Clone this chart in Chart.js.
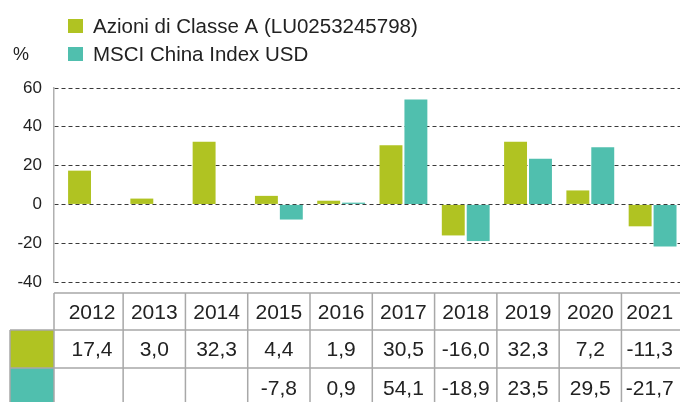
<!DOCTYPE html>
<html>
<head>
<meta charset="utf-8">
<script src="https://cdn.jsdelivr.net/npm/chart.js@4"></script>
<style>
  html, body { margin: 0; padding: 0; background: #fff; }
  #wrap { width: 680px; height: 402px; position: relative; }
</style>
</head>
<body>
<div id="wrap"><canvas id="chart"></canvas></div>
<script>
// values
const years = ['2012', '2013', '2014', '2015', '2016', '2017', '2018', '2019', '2020', '2021'];
const classA = [17.4, 3.0, 32.3, 4.4, 1.9, 30.5, -16.0, 32.3, 7.2, -11.3];
const msciChina = [null, null, null, -7.8, 0.9, 54.1, -18.9, 23.5, 29.5, -21.7];
const seriesNames = ['Azioni di Classe A (LU0253245798)', 'MSCI China Index USD'];
const yTicks = [-40, -20, 0, 20, 40, 60];

const GREEN = '#b0c322';
const TEAL = '#50bfae';
const FONT = '"Liberation Sans", Arial, Helvetica, sans-serif';

const fmt = v => (v === null ? '' : v.toFixed(1).replace('.', ','));

// legend, "%" label and the data table under the plot
const extras = {
  id: 'extras',
  afterDraw(chart) {
    const ctx = chart.ctx;
    const x = chart.scales.x;
    const area = chart.chartArea;
    ctx.save();

    // legend
    ctx.font = '20.5px ' + FONT;
    ctx.textBaseline = 'middle';
    ctx.fillStyle = GREEN;
    ctx.fillRect(68, 19, 15, 14);
    ctx.fillStyle = TEAL;
    ctx.fillRect(68, 47, 15, 14);
    ctx.fillStyle = '#222';
    ctx.textAlign = 'left';
    ctx.fillText(seriesNames[0], 93, 27);
    ctx.fillText(seriesNames[1], 93, 55);
    ctx.font = '18px ' + FONT;
    ctx.fillText('%', 13, 55);

    // table
    const rows = [293, 330, 368, 406];
    ctx.strokeStyle = '#a8a8a8';
    ctx.lineWidth = 1.5;
    ctx.fillStyle = GREEN;
    ctx.fillRect(10, rows[1], area.left - 10, rows[2] - rows[1]);
    ctx.fillStyle = TEAL;
    ctx.fillRect(10, rows[2], area.left - 10, rows[3] - rows[2]);

    ctx.beginPath();
    ctx.moveTo(area.left, rows[0]); ctx.lineTo(680, rows[0]);
    ctx.moveTo(10, rows[1]); ctx.lineTo(680, rows[1]);
    ctx.moveTo(10, rows[2]); ctx.lineTo(680, rows[2]);
    ctx.moveTo(10, rows[1]); ctx.lineTo(10, 402);
    ctx.moveTo(area.left, rows[0]); ctx.lineTo(area.left, 402);
    years.forEach((y, i) => {
      const r = x.getPixelForValue(i + 0.5);
      ctx.moveTo(r, rows[0]); ctx.lineTo(r, 402);
    });
    ctx.stroke();

    ctx.fillStyle = '#222';
    ctx.textAlign = 'center';
    ctx.font = '21px ' + FONT;
    years.forEach((y, i) => {
      const l = Math.max(area.left, x.getPixelForValue(i - 0.5));
      const r = Math.min(area.right - 2, x.getPixelForValue(i + 0.5));
      const cx = (l + r) / 2;
      ctx.fillText(y, cx, 313);
      ctx.fillText(fmt(classA[i]), cx, 350);
      ctx.fillText(fmt(msciChina[i]), cx, 389);
    });
    ctx.restore();
  }
};

new Chart(document.getElementById('chart'), {
  type: 'bar',
  data: {
    datasets: [
      {
        label: seriesNames[0],
        data: classA.map((v, i) => ({ x: i, y: v })),
        backgroundColor: GREEN,
        categoryPercentage: 0.8,
        barPercentage: 0.92
      },
      {
        label: seriesNames[1],
        data: msciChina.map((v, i) => ({ x: i, y: v })),
        backgroundColor: TEAL,
        categoryPercentage: 0.8,
        barPercentage: 0.92
      }
    ]
  },
  options: {
    responsive: true,
    maintainAspectRatio: false,
    animation: false,
    layout: { padding: { top: 88, bottom: 120, left: 0, right: 0 } },
    plugins: {
      legend: { display: false },
      tooltip: { enabled: false }
    },
    scales: {
      x: {
        type: 'linear',
        display: false,
        offset: false,
        bounds: 'data',
        min: -0.61,
        max: 9.44,
        grid: { offset: false },
        afterBuildTicks: (scale) => { scale.ticks = years.map((y, i) => ({ value: i })); }
      },
      y: {
        min: -40,
        max: 60,
        afterFit: (scale) => { scale.width = 54; },
        afterBuildTicks: (scale) => { scale.ticks = yTicks.map(v => ({ value: v })); },
        grid: {
          color: '#3a3a3a',
          lineWidth: 1,
          drawTicks: false
        },
        border: {
          display: true,
          color: '#b0b0b0',
          width: 1.5,
          dash: [4, 3]
        },
        ticks: {
          padding: 12,
          color: '#222',
          font: { size: 17, family: FONT }
        }
      }
    }
  },
  plugins: [extras]
});
</script>
</body>
</html>
